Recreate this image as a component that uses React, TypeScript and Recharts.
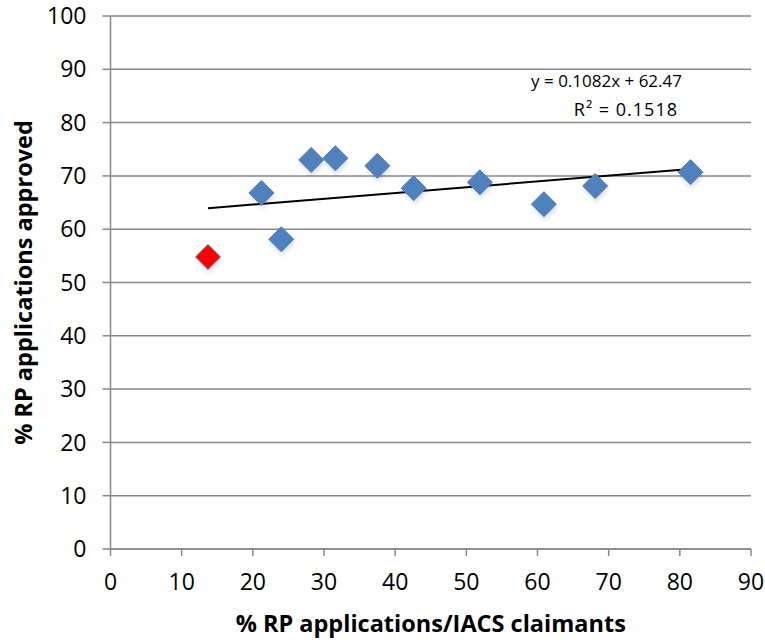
import React from 'react';
import { XAxis, YAxis, CartesianGrid, Line, Scatter, ComposedChart } from 'recharts';

const xValues = [21.2, 24.0, 28.2, 31.6, 37.5, 42.6, 51.9, 60.9, 68.1, 81.5];
const yValues = [66.8, 58.1, 73.0, 73.3, 71.9, 67.7, 68.8, 64.7, 68.1, 70.7];
const highlightX = [13.7];
const highlightY = [54.8];
const trendX = [13.7, 81.5];
const trendY = [63.95, 71.29];
const xTicks = [0, 10, 20, 30, 40, 50, 60, 70, 80, 90];
const yTicks = [0, 10, 20, 30, 40, 50, 60, 70, 80, 90, 100];

const mainData = xValues.map((x, i) => ({ x, y: yValues[i] }));
const redData = highlightX.map((x, i) => ({ x, y: highlightY[i] }));
const trendData = trendX.map((x, i) => ({ x, y: trendY[i] }));

const FONT = '"Open Sans", "Noto Sans", sans-serif';

const Diamond = (fill: string) => (props: any) => {
  const { cx, cy } = props;
  const r = 12.5;
  const pts = (dx: number, dy: number) =>
    `${cx + dx},${cy + dy - r} ${cx + dx + r},${cy + dy} ${cx + dx},${cy + dy + r} ${cx + dx - r},${cy + dy}`;
  return (
    <g>
      <polygon points={pts(1, 4)} fill="#000" opacity={0.12} filter="url(#blurShadow)" />
      <polygon points={pts(0, 0)} fill={fill} stroke="#4A7EBB" strokeWidth={1} />
    </g>
  );
};

export default function App() {
  return (
    <div style={{ position: 'relative', width: 765, height: 643, fontFamily: FONT }}>
      <style>{`body { margin: 0; } .recharts-surface { overflow: visible; } .recharts-wrapper { overflow: visible; }`}</style>
      <div style={{ position: 'absolute', left: 8, top: 8, width: 757, height: 627 }}>
        <ComposedChart
          width={757}
          height={627}
          margin={{ top: 8, right: 14, left: 0, bottom: 0 }}
        >
          <defs>
            <filter id="blurShadow" x="-50%" y="-50%" width="200%" height="200%">
              <feGaussianBlur stdDeviation="2" />
            </filter>
          </defs>
          <CartesianGrid vertical={false} stroke="#878787" strokeWidth={1.5} />
          <XAxis
            type="number"
            dataKey="x"
            domain={[0, 90]}
            ticks={xTicks}
            interval={0}
            height={86}
            stroke="#878787"
            strokeWidth={1.5}
            tickSize={7}
            tickMargin={18}
            tick={{ fill: '#000', fontSize: 23, fontFamily: FONT }}
            label={{
              content: (p: any) => {
                const vb = p.viewBox;
                return (
                  <text
                    x={vb.x + vb.width / 2}
                    y={vb.y + 83}
                    textAnchor="middle"
                    fontFamily={FONT}
                    fontWeight="bold"
                    fontSize={23.5}
                    fill="#000"
                  >
                    % RP applications/IACS claimants
                  </text>
                );
              },
            }}
          />
          <YAxis
            type="number"
            dataKey="y"
            domain={[0, 100]}
            ticks={yTicks}
            interval={0}
            width={102.5}
            stroke="#878787"
            strokeWidth={1.5}
            tickSize={8}
            tickMargin={16}
            tick={{ fill: '#000', fontSize: 23, fontFamily: FONT }}
            label={{
              content: (p: any) => {
                const vb = p.viewBox;
                const cx = 15;
                const cy = vb.y + vb.height / 2;
                return (
                  <text
                    x={cx}
                    y={cy}
                    transform={`rotate(-90, ${cx}, ${cy})`}
                    textAnchor="middle"
                    dominantBaseline="central"
                    fontFamily={FONT}
                    fontWeight="bold"
                    fontSize={23.5}
                    fill="#000"
                  >
                    % RP applications approved
                  </text>
                );
              },
            }}
          />
          <Line
            data={trendData}
            dataKey="y"
            type="linear"
            stroke="#000"
            strokeWidth={2}
            dot={false}
            activeDot={false}
            isAnimationActive={false}
          />
          <Scatter data={mainData} dataKey="y" shape={Diamond('#4F81BD')} isAnimationActive={false} />
          <Scatter data={redData} dataKey="y" shape={Diamond('#FF0000')} isAnimationActive={false} />
        </ComposedChart>
        <div
          style={{
            position: 'absolute',
            left: 470,
            top: 58,
            width: 204,
            textAlign: 'right',
            fontSize: 17,
            lineHeight: '29px',
            color: '#000',
            fontFamily: FONT,
            whiteSpace: 'nowrap',
          }}
        >
          <div>y = 0.1082x + 62.47</div>
          <div style={{ paddingRight: 4, fontSize: 18, letterSpacing: 1 }}>R² = 0.1518</div>
        </div>
      </div>
    </div>
  );
}
